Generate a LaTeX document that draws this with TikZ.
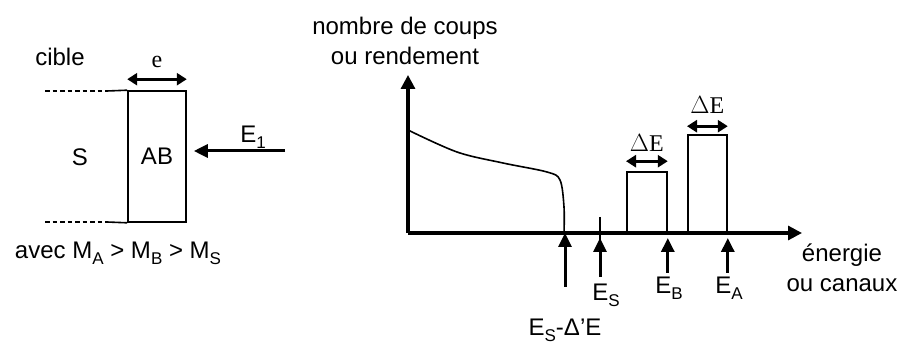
\documentclass[tikz,border=0pt]{standalone}
\usepackage{fontspec}
\setmainfont{Liberation Sans}
\newfontfamily\timesfont{Liberation Serif}
\usetikzlibrary{arrows.meta, positioning}
\newcommand{\ind}[1]{\raisebox{-0.45ex}{\fontsize{17}{17}\selectfont #1}}

\begin{document}
\begin{tikzpicture}[
    x=1pt, y=1pt,
    every node/.style={font=\fontsize{24}{30}\selectfont, inner sep=2pt},
    serif/.style={font=\fontsize{24}{30}\selectfont\timesfont},
    axis/.style={line width=3.2pt, -{Triangle[length=14pt,width=14pt]}},
    arrow/.style={line width=3pt, -{Triangle[length=14pt,width=13pt]}},
    dimarrow/.style={line width=3pt,
        {Triangle[length=10pt,width=12pt]}-{Triangle[length=10pt,width=12pt]}},
    thinline/.style={line width=1.6pt},
    dashes/.style={line width=2.2pt, dash pattern=on 4.5pt off 3pt},
    peak/.style={draw, line width=1.8pt}
]
\useasboundingbox (0,0) rectangle (906,343);

% Target
\node[draw, thinline, minimum width=58pt, minimum height=131pt] (target) at (157,186.5) {AB};
\node (cible) at (60,286) {cible};
\node (layer) at (80,186) {S};
\node[serif] (thick) at (157,281) {e};
\node (beamlbl) at (253,206) {E\ind{1}};
\node (masses) at (118,90) {avec M\ind{A} > M\ind{B} > M\ind{S}};

\draw[dashes] (45,252) -- (107,252);
\draw[thinline] (107,252) -- (target.north west);
\draw[dashes] (45,121) -- (107,121);
\draw[thinline] (107,121) -- (target.south west);
\draw[dimarrow] ([yshift=11pt]target.north west) -- ([yshift=11pt]target.north east);

\coordinate (beam) at (285,192);
\draw[arrow] (beam) -- ([xshift=7pt]beam -| target.east);

% Spectrum
\coordinate (origin) at (408,110);
\node[align=center] (ytitle) at (405,302) {nombre de coups\\ou rendement};
\node[align=center] (xtitle) at (842,75) {énergie\\ou canaux};
\draw[axis] (origin) -- (408,268);
\draw[axis] (origin) -- (802,110);

\draw[thinline] plot[smooth, tension=0.55] coordinates
    {(408,213) (457,191) (503,180) (547,171) (560,163) (564,136) (564,110)};

\node[peak, minimum width=40pt, minimum height=60pt, anchor=south west] (peakB) at (626,110) {};
\node[peak, minimum width=39pt, minimum height=97pt, anchor=south west] (peakA) at (687,110) {};
\node[serif] (dEB) at ([yshift=28pt]peakB.north) {$\Delta$E};
\node[serif] (dEA) at ([yshift=29pt]peakA.north) {$\Delta$E};
\draw[dimarrow] ([yshift=10pt]peakB.north west) -- ([yshift=10pt]peakB.north east);
\draw[dimarrow] ([yshift=8pt]peakA.north west) -- ([yshift=8pt]peakA.north east);

% Markers
\coordinate (edge) at (565,110);
\coordinate (es) at (600,105);
\coordinate (eb) at (peakB.south east);
\coordinate (ea) at (peakA.south east);
\draw[line width=1.2pt] (600,126) -- (600,103);

\node (edgelbl) at (565,13) {E\ind{S}-Δ’E};
\node (eslbl) at (606,48) {E\ind{S}};
\node (eblbl) at (669,55) {E\ind{B}};
\node (ealbl) at (729,55) {E\ind{A}};

\draw[arrow] (edge |- 0,56) -- (edge);
\draw[arrow] (es |- 0,66) -- (es);
\draw[arrow] ([yshift=-5pt]eb |- 0,75) -- ([yshift=-5pt]eb);
\draw[arrow] ([yshift=-5pt]ea |- 0,75) -- ([yshift=-5pt]ea);

\end{tikzpicture}
\end{document}
